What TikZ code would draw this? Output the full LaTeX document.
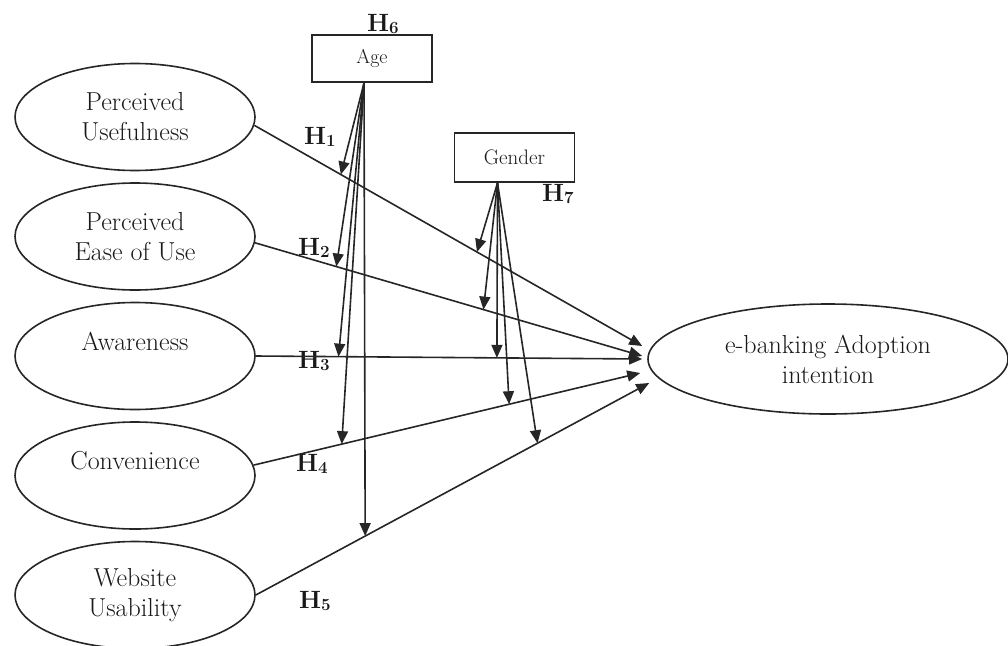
\documentclass[tikz,border=0pt]{standalone}
\usetikzlibrary{shapes.geometric, arrows.meta, positioning}
\tikzstyle{construct} = [ellipse, draw=black!85, line width=1.6pt, minimum width=240pt, minimum height=107pt, inner sep=0pt, align=center, text=black!90, font=\fontsize{26}{30}\selectfont]
\tikzstyle{outcome} = [construct, minimum width=360pt, minimum height=110pt]
\tikzstyle{modbox} = [rectangle, draw=black!85, line width=1.8pt, minimum width=120pt, minimum height=47pt, text=black!90]
\tikzstyle{arrow} = [line width=1.6pt, draw=black!85, -{Triangle[length=13pt,width=11pt]}]
\tikzstyle{hlabel} = [inner sep=0pt, text=black!90, font=\fontsize{25}{25}\selectfont\bfseries]
\newcommand{\hname}[1]{H\raisebox{-2pt}{\fontsize{17}{17}\selectfont #1}}
\begin{document}
\begin{tikzpicture}[x=1pt, y=-1pt, node distance=119.5pt]
	\useasboundingbox (0,0) rectangle (1008,645);

	\node (useful)[construct] at (135,117) {Perceived\\Usefulness};

	\node (ease)[construct, below of=useful] {Perceived\\Ease of Use};

	\node (aware)[construct, below of=ease] {Awareness\\~};

	\node (conv)[construct, below of=aware] {Convenience\\~};

	\node (web)[construct, below of=conv] {Website\\Usability};

	\node (adopt)[outcome] at (828,359) {e-banking Adoption\\intention};

	\node (age)[modbox, font=\fontsize{20}{22}\selectfont] at (372,58.5) {Age};

	\node (gender)[modbox, font=\fontsize{21}{22}\selectfont, minimum height=49pt] at (514.5,157.5) {Gender};

	% hypotheses labels
	\node (h1)[hlabel] at (320,137) {\hname{1}};
	\node (h2)[hlabel] at (314,248) {\hname{2}};
	\node (h3)[hlabel] at (314,361) {\hname{3}};
	\node (h4)[hlabel] at (312,464) {\hname{4}};
	\node (h5)[hlabel] at (315,601) {\hname{5}};
	\node (h6)[hlabel] at (383,24) {\hname{6}};
	\node (h7)[hlabel] at (558,194) {\hname{7}};

	% direct paths
	\draw [arrow] (useful.356) -- coordinate[pos=0.223] (age1) coordinate[pos=0.574] (gen1) ([xshift=-5pt,yshift=13pt]adopt.west);
	\draw [arrow] (ease.357) -- coordinate[pos=0.21] (age2) coordinate[pos=0.59] (gen2) ([xshift=-5pt,yshift=3pt]adopt.west);
	\draw [arrow] (aware.east) -- coordinate[pos=0.214] (age3) coordinate[pos=0.624] (gen3) ([xshift=-5pt]adopt.west);
	\draw [arrow] (conv.5) -- coordinate[pos=0.228] (age4) coordinate[pos=0.661] (gen4) ([xshift=-7pt,yshift=-14pt]adopt.west);
	\draw [arrow] (web.east) -- coordinate[pos=0.278] (age5) coordinate[pos=0.716] (gen5) ([xshift=2pt,yshift=-24pt]adopt.west);

	% moderating paths
	\draw [arrow] ([xshift=-8pt]age.south) -- (age1);
	\draw [arrow] ([xshift=-8pt]age.south) -- (age2);
	\draw [arrow] ([xshift=-8pt]age.south) -- (age3);
	\draw [arrow] ([xshift=-8pt]age.south) -- (age4);
	\draw [arrow] ([xshift=-8pt]age.south) -- (age5);

	\draw [arrow] ([xshift=-17pt]gender.south) -- (gen1);
	\draw [arrow] ([xshift=-17pt]gender.south) -- (gen2);
	\draw [arrow] ([xshift=-17pt]gender.south) -- (gen3);
	\draw [arrow] ([xshift=-17pt]gender.south) -- (gen4);
	\draw [arrow] ([xshift=-17pt]gender.south) -- (gen5);

\end{tikzpicture}
\end{document}
